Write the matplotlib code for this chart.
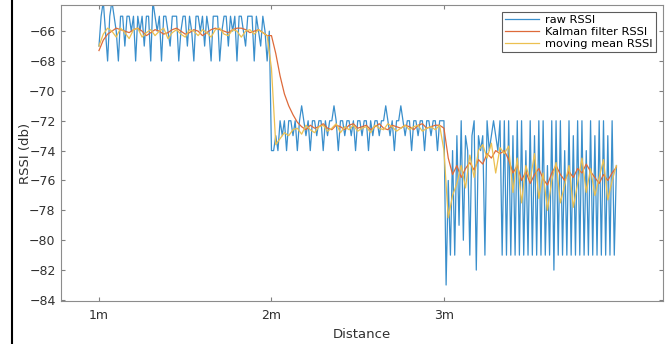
import numpy as np
from matplotlib import pyplot as plt
from matplotlib.lines import Line2D

# raw RSSI samples, 80 per metre (1m..2m, 2m..3m, 3m..4m)
raw_1m = [-67, -65, -64, -66, -68, -65, -64, -65, -66, -68, -65, -65, -67, -65, -65, -66,
          -65, -68, -65, -66, -65, -67, -65, -65, -68, -64, -65, -66, -65, -68, -65, -65,
          -66, -67, -65, -65, -65, -68, -66, -65, -65, -67, -65, -66, -68, -65, -65, -66,
          -65, -67, -65, -66, -68, -65, -65, -65, -68, -66, -65, -65, -67, -65, -66, -65,
          -68, -65, -65, -66, -67, -65, -65, -65, -68, -65, -66, -67, -65, -66, -68, -66]
raw_2m = [-74, -74, -73, -74, -72, -73, -72, -74, -72, -72, -73, -72, -74, -72, -71, -72,
          -73, -72, -74, -72, -72, -73, -72, -72, -74, -72, -73, -72, -72, -71, -72, -74,
          -72, -72, -73, -72, -72, -73, -72, -74, -72, -72, -73, -72, -72, -74, -72, -73,
          -72, -72, -73, -72, -72, -71, -72, -73, -72, -74, -72, -72, -71, -72, -73, -72,
          -72, -74, -72, -72, -73, -72, -72, -74, -72, -72, -73, -72, -72, -74, -72, -72]
raw_3m = [-72, -83, -76, -81, -74, -81, -73, -79, -72, -80, -73, -74, -81, -73, -72, -82,
          -73, -74, -73, -81, -72, -74, -73, -72, -73, -74, -72, -81, -72, -81, -72, -81,
          -73, -81, -72, -81, -72, -81, -74, -81, -72, -81, -73, -81, -72, -81, -72, -81,
          -75, -81, -72, -82, -72, -81, -72, -81, -74, -81, -72, -81, -73, -81, -72, -81,
          -72, -81, -74, -81, -72, -81, -73, -81, -72, -81, -72, -81, -73, -81, -72, -81,
          -75]
raw_rssi = raw_1m + raw_2m + raw_3m
raw_x = 1 + np.arange(len(raw_rssi)) / 80

# filtered series, 40 per metre
kalman_rssi = [-67.3, -66.6, -66.2, -66.0, -65.8, -65.9, -66.0, -66.1, -65.9, -65.8,
               -66.0, -66.3, -66.1, -65.9, -66.0, -66.2, -66.1, -65.9, -65.8, -66.0,
               -66.2, -66.1, -65.9, -66.0, -66.3, -66.1, -65.9, -65.8, -65.9, -66.0,
               -66.1, -65.9, -65.8, -65.8, -65.9, -66.1, -66.0, -65.9, -66.1, -66.3,
               -66.3, -67.5, -69.0, -70.2, -71.0, -71.6, -72.1, -72.4, -72.6, -72.3,
               -72.5, -72.4, -72.2, -72.5, -72.6, -72.3, -72.4, -72.6, -72.3, -72.2,
               -72.5, -72.4, -72.3, -72.6, -72.4, -72.2, -72.5, -72.6, -72.3, -72.4,
               -72.5, -72.3, -72.4, -72.6, -72.3, -72.2, -72.5, -72.4, -72.3, -72.3,
               -72.5, -74.5, -75.6, -75.0, -75.8, -75.2, -74.8, -75.3, -74.6, -74.9,
               -74.2, -74.5, -74.0, -74.2, -74.0, -74.6, -75.5, -75.0, -76.0, -75.4,
               -76.2, -75.6, -75.2, -75.9, -76.3, -75.5, -75.0, -75.6, -76.0, -75.4,
               -75.8, -75.2, -75.5, -74.9, -75.4, -75.8, -76.2, -75.6, -76.0, -75.5,
               -75.1]
mean_rssi = [-67.0, -66.2, -65.8, -66.0, -66.4, -65.8, -66.1, -66.5, -65.9, -65.8,
             -66.4, -66.1, -65.9, -66.3, -66.0, -65.8, -66.5, -66.1, -65.9, -66.2,
             -66.4, -65.9, -66.0, -66.3, -65.9, -66.1, -66.4, -65.9, -65.8, -66.2,
             -66.3, -65.9, -66.0, -66.4, -66.0, -65.9, -66.2, -65.9, -66.1, -66.3,
             -68.5, -73.6, -73.2, -72.8, -73.0, -72.6, -72.5, -72.9, -72.3, -72.6,
             -72.8, -72.4, -72.3, -72.7, -72.5, -72.2, -72.8, -72.4, -72.6, -72.3,
             -72.7, -72.5, -72.4, -72.8, -72.3, -72.5, -72.6, -72.2, -72.4, -72.7,
             -72.5, -72.3, -72.6, -72.4, -72.3, -72.7, -72.5, -72.4, -72.6, -72.3,
             -74.0, -78.5, -77.0, -76.2, -75.0, -76.5, -74.3, -75.8, -74.0, -73.6,
             -74.5, -73.5, -75.5, -73.8, -74.2, -73.7, -76.8, -74.5, -77.5, -75.0,
             -76.0, -74.2, -77.2, -75.5, -78.0, -76.0, -74.8, -77.5, -76.3, -75.0,
             -77.8, -76.2, -74.5, -76.8, -75.2, -77.0, -75.8, -74.6, -77.3, -76.0,
             -75.0]
filt_x = 1 + np.arange(len(kalman_rssi)) / 40

dist_ticks = [1, 2, 3]
dist_labels = ["1m", "2m", "3m"]
rssi_ticks = list(range(-84, -65, 2))

fig = plt.figure(figsize=(6.65, 3.44), dpi=100)
ax = fig.add_axes([0.091, 0.125, 0.906, 0.86])

ax.plot(raw_x, raw_rssi, color='#3a8fcc', lw=0.9, label='raw RSSI')
ax.plot(filt_x, kalman_rssi, color='#de6a3a', lw=0.9, label='Kalman filter RSSI')
ax.plot(filt_x, mean_rssi, color='#ecc050', lw=0.9, label='moving mean RSSI')

ax.set_xlim(0.777, 4.27)
ax.set_ylim(-84.07, -64.26)
ax.set_xticks(dist_ticks)
ax.set_xticklabels(dist_labels)
ax.set_yticks(rssi_ticks)
ax.tick_params(direction='in', top=True, right=True, length=3, color='#808080',
               labelcolor='#303030', labelsize=9)
ax.tick_params(axis='x', pad=6)
for s in ax.spines.values():
    s.set_color('#8c8c8c')
ax.set_xlabel('Distance', fontsize=9.5, color='#303030', labelpad=4)
ax.set_ylabel('RSSI (db)', fontsize=9.5, color='#303030', labelpad=-2)

leg = ax.legend(loc='upper right', fontsize=8.2, frameon=True, fancybox=False,
                handlelength=3.0, handletextpad=0.5, borderaxespad=0.6,
                borderpad=0.3, labelspacing=0.15)
leg.get_frame().set_edgecolor('#333333')
leg.get_frame().set_linewidth(0.8)

# dark border line at the left of the screenshot
fig.add_artist(Line2D([0.018, 0.018], [0, 1], color='black', lw=1.5))

plt.savefig('out.png')
